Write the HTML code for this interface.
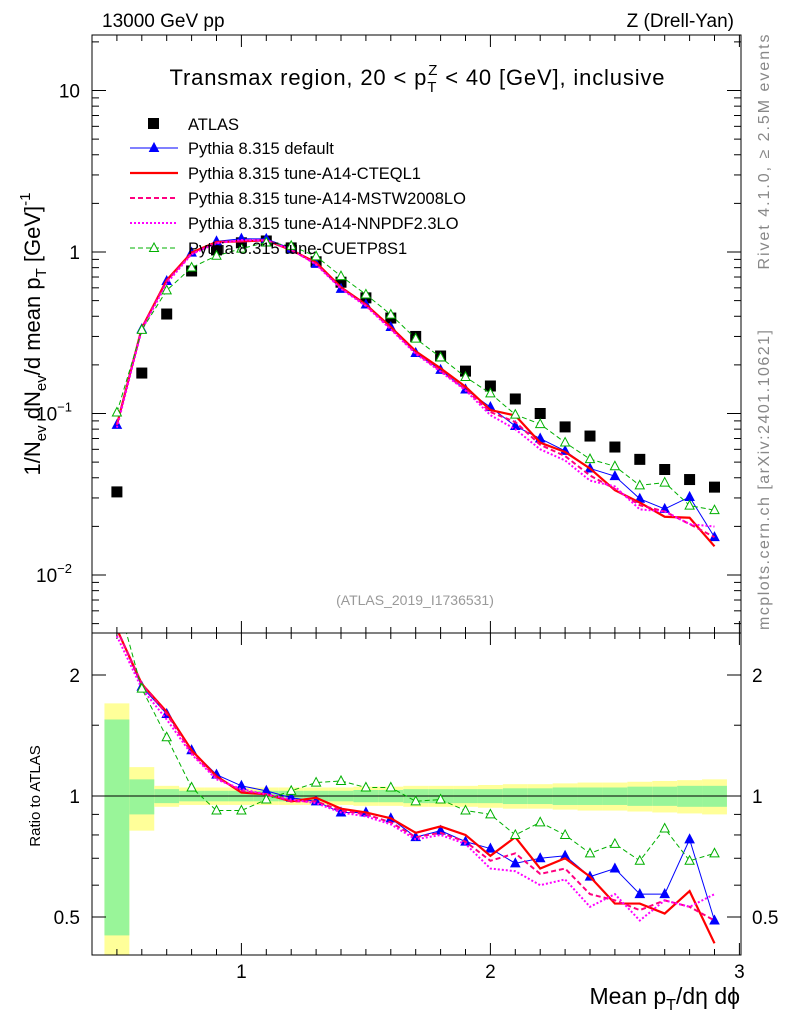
<!DOCTYPE html>
<html><head><meta charset="utf-8">
<style>
body{margin:0;background:#fff;}
svg text{font-family:"Liberation Sans",Arial,sans-serif;}
</style></head>
<body>
<svg id="c" width="786" height="1024" xmlns="http://www.w3.org/2000/svg">
<g id="bands"></g>
<g id="grid"></g>
<g id="series"></g>
<g id="frames">
<rect x="92" y="35" width="649" height="598" fill="none" stroke="#000" stroke-width="1"/>
<rect x="92" y="633" width="649" height="322" fill="none" stroke="#000" stroke-width="1"/>
</g>
<text x="102" y="27" font-size="19">13000 GeV pp</text>
<text x="734" y="27" font-size="19" text-anchor="end">Z (Drell-Yan)</text>
<text x="417" y="85" font-size="22" text-anchor="middle" textLength="495">Transmax region, 20 &lt; p<tspan font-size="15" dy="7">T</tspan><tspan font-size="15" dx="-9" dy="-17">Z</tspan><tspan dy="10"> &lt; 40 [GeV], inclusive</tspan></text>
<text x="415" y="605" font-size="14" fill="#999" text-anchor="middle">(ATLAS_2019_I1736531)</text>
<text transform="translate(769,152) rotate(-90)" font-size="16" fill="#888" text-anchor="middle" textLength="235">Rivet 4.1.0, ≥ 2.5M events</text>
<text transform="translate(769,480) rotate(-90)" font-size="16" fill="#888" text-anchor="middle" textLength="300">mcplots.cern.ch [arXiv:2401.10621]</text>
<text transform="translate(40,334) rotate(-90)" font-size="22" text-anchor="middle">1/N<tspan font-size="15" dy="6">ev</tspan><tspan dy="-6"> dN</tspan><tspan font-size="15" dy="6">ev</tspan><tspan dy="-6">/d mean p</tspan><tspan font-size="15" dy="6">T</tspan><tspan dy="-6"> [GeV]</tspan><tspan font-size="15" dy="-10">-1</tspan></text>
<text transform="translate(40,796) rotate(-90)" font-size="15" text-anchor="middle">Ratio to ATLAS</text>
<text x="740" y="1004" font-size="23" text-anchor="end">Mean p<tspan font-size="16" dy="6">T</tspan><tspan dy="-6">/dη dϕ</tspan></text>
<g id="legend"></g>
</svg>
<script>
const xs=[0.5,0.6,0.7,0.8,0.9,1.0,1.1,1.2,1.3,1.4,1.5,1.6,1.7,1.8,1.9,2.0,2.1,2.2,2.3,2.4,2.5,2.6,2.7,2.8,2.9];
const atlas=[0.0327,0.178,0.413,0.763,1.03,1.14,1.17,1.06,0.87,0.65,0.52,0.39,0.30,0.227,0.183,0.148,0.123,0.100,0.0826,0.0725,0.062,0.052,0.045,0.039,0.035];
const yellowErr=[0.7,0.18,0.06,0.05,0.05,0.05,0.05,0.05,0.05,0.05,0.055,0.055,0.06,0.06,0.06,0.065,0.07,0.07,0.075,0.08,0.08,0.085,0.09,0.095,0.1];
const greenErr=[0.55,0.1,0.04,0.03,0.03,0.03,0.03,0.03,0.03,0.03,0.035,0.035,0.04,0.04,0.04,0.04,0.045,0.045,0.05,0.05,0.05,0.055,0.055,0.06,0.06];
const rDefault=[2.6,1.87,1.6,1.3,1.13,1.06,1.03,0.99,0.97,0.91,0.91,0.88,0.79,0.82,0.77,0.74,0.68,0.70,0.71,0.63,0.66,0.57,0.57,0.78,0.49];
const rCTEQ=[2.6,1.9,1.62,1.3,1.12,1.02,1.01,0.97,0.99,0.93,0.91,0.88,0.81,0.84,0.80,0.71,0.79,0.66,0.70,0.63,0.54,0.54,0.51,0.58,0.43];
const rMSTW=[2.6,1.9,1.6,1.28,1.11,1.03,1.01,0.97,0.97,0.92,0.9,0.86,0.79,0.81,0.77,0.69,0.72,0.64,0.66,0.57,0.55,0.52,0.55,0.53,0.49];
const rNNPDF=[2.5,1.85,1.55,1.27,1.10,1.04,1.01,0.98,0.96,0.91,0.89,0.85,0.78,0.8,0.76,0.66,0.65,0.60,0.62,0.53,0.57,0.49,0.55,0.53,0.57];
const rCUETP=[3.1,1.85,1.4,1.05,0.92,0.92,0.98,1.03,1.08,1.09,1.05,1.05,0.97,0.98,0.92,0.90,0.80,0.86,0.80,0.72,0.76,0.69,0.83,0.69,0.72];
const xTicks=[1,2,3];
const ratioTicks=[0.5,1,2];

const NS="http://www.w3.org/2000/svg";
const X=v=>92+(v-0.4)*249;
const YM=v=>252-Math.log10(v)*161.5;
const YR=v=>796-Math.log2(v)*121;
const svg=document.getElementById('c');
function mk(tag,attrs,parent){const e=document.createElementNS(NS,tag);for(const k in attrs)e.setAttribute(k,attrs[k]);(parent||svg).appendChild(e);return e;}
const grid=document.getElementById('grid'),bands=document.getElementById('bands'),ser=document.getElementById('series'),leg=document.getElementById('legend');
const clipR=(y)=>Math.max(633,Math.min(955,y));
xs.forEach((x,i)=>{
 let y1=clipR(YR(1+yellowErr[i])),y2=clipR(YR(Math.max(0.01,1-yellowErr[i])));
 let r=mk('rect',{x:X(x-0.05),y:y1,width:249*0.1,height:y2-y1,fill:'#ffff99'},bands);
 
 
 y1=clipR(YR(1+greenErr[i]));y2=clipR(YR(Math.max(0.01,1-greenErr[i])));
 r=mk('rect',{x:X(x-0.05),y:y1,width:249*0.1,height:y2-y1,fill:'#99f599'},bands);
 
 
});
let l=mk('line',{x1:92,x2:741,y1:YR(1),y2:YR(1),stroke:'#000','stroke-width':1},grid);


for(let k=5;k<=30;k++){const v=k/10;const major=k%10==0;const len=major?12:6;
 [[633,-1],[955,-1],[35,1],[633,1]].forEach(([y,d])=>{mk('line',{x1:X(v),x2:X(v),y1:y,y2:y+d*len,stroke:'#000'},grid);});
}
xTicks.forEach(v=>{const t=mk('text',{x:X(v),y:978,'font-size':19,'text-anchor':'middle'},grid);t.textContent=v;
 
 });
for(let d=-3;d<=1;d++){for(let m=1;m<=9;m++){const v=m*Math.pow(10,d);const y=YM(v);if(y<35||y>633)continue;const len=m==1?14:7;
 mk('line',{x1:92,x2:92+len,y1:y,y2:y,stroke:'#000'},grid);mk('line',{x1:741,x2:741-len,y1:y,y2:y,stroke:'#000'},grid);}}
[[10,"10",""],[1,"1",""],[0.1,"10","−1"],[0.01,"10","−2"]].forEach(([v,b,e])=>{const t=mk('text',{x:e?72:80,y:YM(v)+7,'font-size':19,'text-anchor':'end'},grid);
 t.textContent=b;if(e){const s=mk('tspan',{'font-size':13,dy:-9},t);s.textContent=e;}
 
 });
[0.5,0.6,0.7,0.8,0.9,1,1.5,2].forEach(v=>{const y=YR(v);const len=[0.5,1,2].includes(v)?14:7;
 mk('line',{x1:92,x2:92+len,y1:y,y2:y,stroke:'#000'},grid);mk('line',{x1:741,x2:741-len,y1:y,y2:y,stroke:'#000'},grid);});
ratioTicks.forEach(v=>{[[80,'end'],[752,'start']].forEach(([x,a])=>{const t=mk('text',{x:x,y:YR(v)+7,'font-size':19,'text-anchor':a},grid);t.textContent=v;
 
 });});
const defs=mk('defs',{});
const c1=mk('clipPath',{id:'cm'},defs);mk('rect',{x:92,y:35,width:649,height:598},c1);
const c2=mk('clipPath',{id:'cr'},defs);mk('rect',{x:92,y:633,width:649,height:322},c2);
const gm=mk('g',{'clip-path':'url(#cm)'},ser),gr=mk('g',{'clip-path':'url(#cr)'},ser);
xs.forEach((x,i)=>{const r=mk('rect',{x:X(x)-5.5,y:YM(atlas[i])-5.5,width:11,height:11,fill:'#000'},gm);
 
 });
const series=[
 {name:'default',r:rDefault,color:'#0000ff',dash:'',w:1,marker:'tri',label:'Pythia 8.315 default'},
 {name:'cteql1',r:rCTEQ,color:'#ff0000',dash:'',w:2.2,marker:'',label:'Pythia 8.315 tune-A14-CTEQL1'},
 {name:'mstw',r:rMSTW,color:'#ff0080',dash:'5,3',w:2,marker:'',label:'Pythia 8.315 tune-A14-MSTW2008LO'},
 {name:'nnpdf',r:rNNPDF,color:'#ff00ff',dash:'2,2',w:2,marker:'',label:'Pythia 8.315 tune-A14-NNPDF2.3LO'},
 {name:'cuetp',r:rCUETP,color:'#00b000',dash:'5,3',w:1,marker:'otri',label:'Pythia 8.315 tune-CUETP8S1'}];
function tri(g,x,y,s){return mk('polygon',{points:`${x},${y-5} ${x-4.5},${y+3.5} ${x+4.5},${y+3.5}`,fill:s.marker=='tri'?s.color:'#fff',stroke:s.color,'stroke-width':1},g);}
series.forEach(s=>{
 const pm=xs.map((x,i)=>`${X(x)},${YM(s.r[i]*atlas[i])}`).join(' ');
 let pl=mk('polyline',{points:pm,fill:'none',stroke:s.color,'stroke-width':s.w,'stroke-dasharray':s.dash},gm);
 
 
 const pr=xs.map((x,i)=>`${X(x)},${YR(s.r[i])}`).join(' ');
 pl=mk('polyline',{points:pr,fill:'none',stroke:s.color,'stroke-width':s.w,'stroke-dasharray':s.dash},gr);
 
 
 if(s.marker){xs.forEach((x,i)=>{
  let p=tri(gm,X(x),YM(s.r[i]*atlas[i]),s);
  
  
  p=tri(gr,X(x),YR(s.r[i]),s);
  
  });}
});
let ly=124;
let lr=mk('rect',{x:148,y:ly-6,width:11,height:11,fill:'#000'},leg);


let lt=mk('text',{x:188,y:ly+6,'font-size':16.5},leg);lt.textContent='ATLAS';


series.forEach((s,i)=>{const y=ly+25*(i+1)-1;
 mk('line',{x1:130,x2:178,y1:y,y2:y,stroke:s.color,'stroke-width':s.w,'stroke-dasharray':s.dash},leg);
 if(s.marker)tri(leg,154,y,s);
 const t=mk('text',{x:188,y:y+6,'font-size':16.5},leg);t.textContent=s.label;
 
 });
</script>
</body></html>
